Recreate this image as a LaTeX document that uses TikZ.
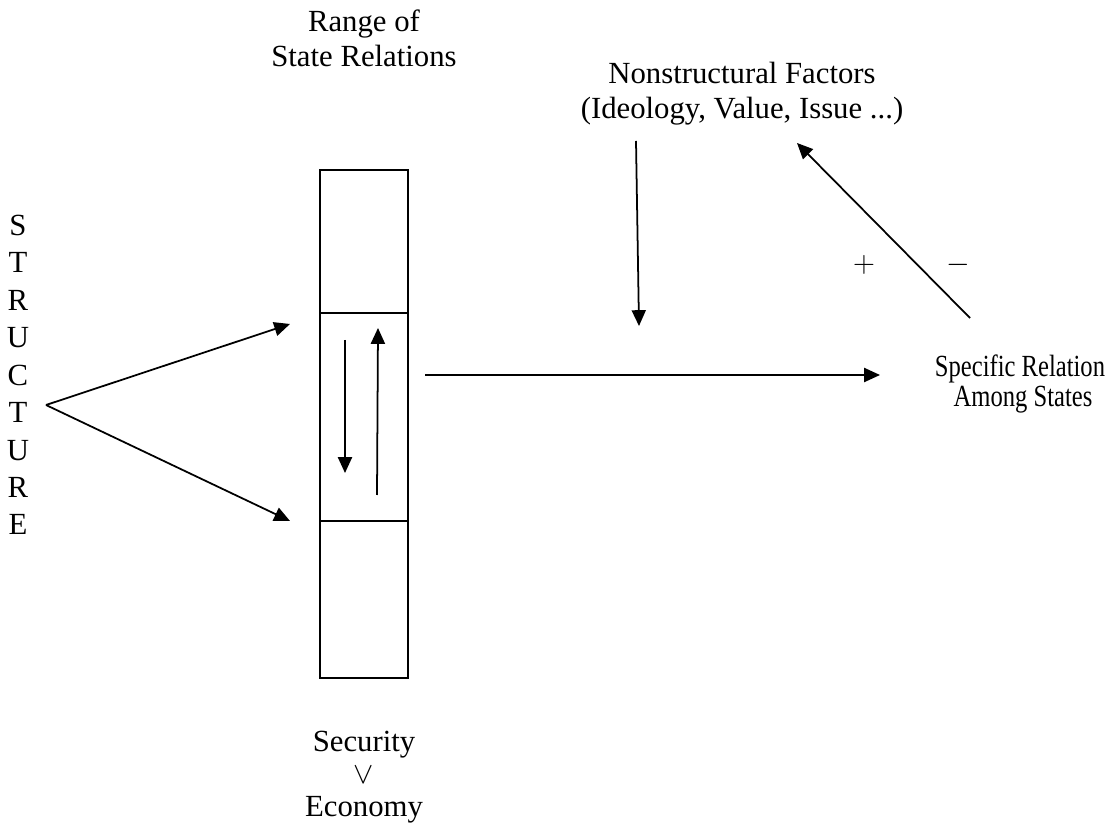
\documentclass[tikz,border=0pt]{standalone}
\usepackage{fontspec}
\setmainfont{Liberation Serif}
\usetikzlibrary{arrows.meta}

\tikzset{
  lbl/.style={align=center, inner sep=0pt, font=\fontsize{17.5}{20}\selectfont},
  arr/.style={-{Triangle[length=9pt,width=8pt]}, line width=1pt},
  cell/.style={draw, line width=0.8pt, minimum width=1.76cm, inner sep=0pt, outer sep=0pt},
}

\begin{document}
\begin{tikzpicture}[x=0.02cm, y=-0.02cm]
  \useasboundingbox (0,0) rectangle (1105,830);

  % labels
  \node[lbl] (range)    at (364,38)  {Range of\\State Relations};
  \node[lbl] (factors)  at (742,94)  {Nonstructural Factors\\(Ideology, Value, Issue ...)};
  \node[lbl, font=\fontsize{17.5}{17}\selectfont, xscale=0.8, transform shape]
       (specific) at (1020,384) {Specific Relation\\\ Among States};
  \node[lbl, font=\fontsize{17.5}{18.6}\selectfont] (choice) at (364,777)
       {Security\\$\vee$\\Economy};
  \node[lbl, font=\fontsize{17.5}{21.3}\selectfont] (struct) at (18,375)
       {S\\T\\R\\U\\C\\T\\U\\R\\E};
  \node[lbl] (plus)  at (864,265) {$+$};
  \node[lbl] (minus) at (958,265) {$-$};

  % the range box
  \node[cell, minimum height=2.86cm, anchor=north] (top) at (364,170) {};
  \node[cell, minimum height=4.16cm, anchor=north] (mid) at (top.south) {};
  \node[cell, minimum height=3.14cm, anchor=north] (bot) at (mid.south) {};

  % arrow ends
  \coordinate (src)   at (46,405);
  \coordinate (hiend) at (290,324);
  \coordinate (loend) at (290,521);
  \coordinate (dn1) at (345,340);
  \coordinate (dn2) at (345,473);
  \coordinate (up1) at (377,495);
  \coordinate (up2) at (378,328);
  \coordinate (out1) at (425,375);
  \coordinate (out2) at (880,375);
  \coordinate (nf1) at (636,141);
  \coordinate (nf2) at (639,326);
  \coordinate (fb1) at (970,318);
  \coordinate (fb2) at (797,143);

  \draw[arr] (src) -- (hiend);
  \draw[arr] (src) -- (loend);
  \draw[arr] (dn1) -- (dn2);
  \draw[arr] (up1) -- (up2);
  \draw[arr] (out1) -- (out2);
  \draw[arr] (nf1) -- (nf2);
  \draw[arr] (fb1) -- (fb2);
\end{tikzpicture}
\end{document}
